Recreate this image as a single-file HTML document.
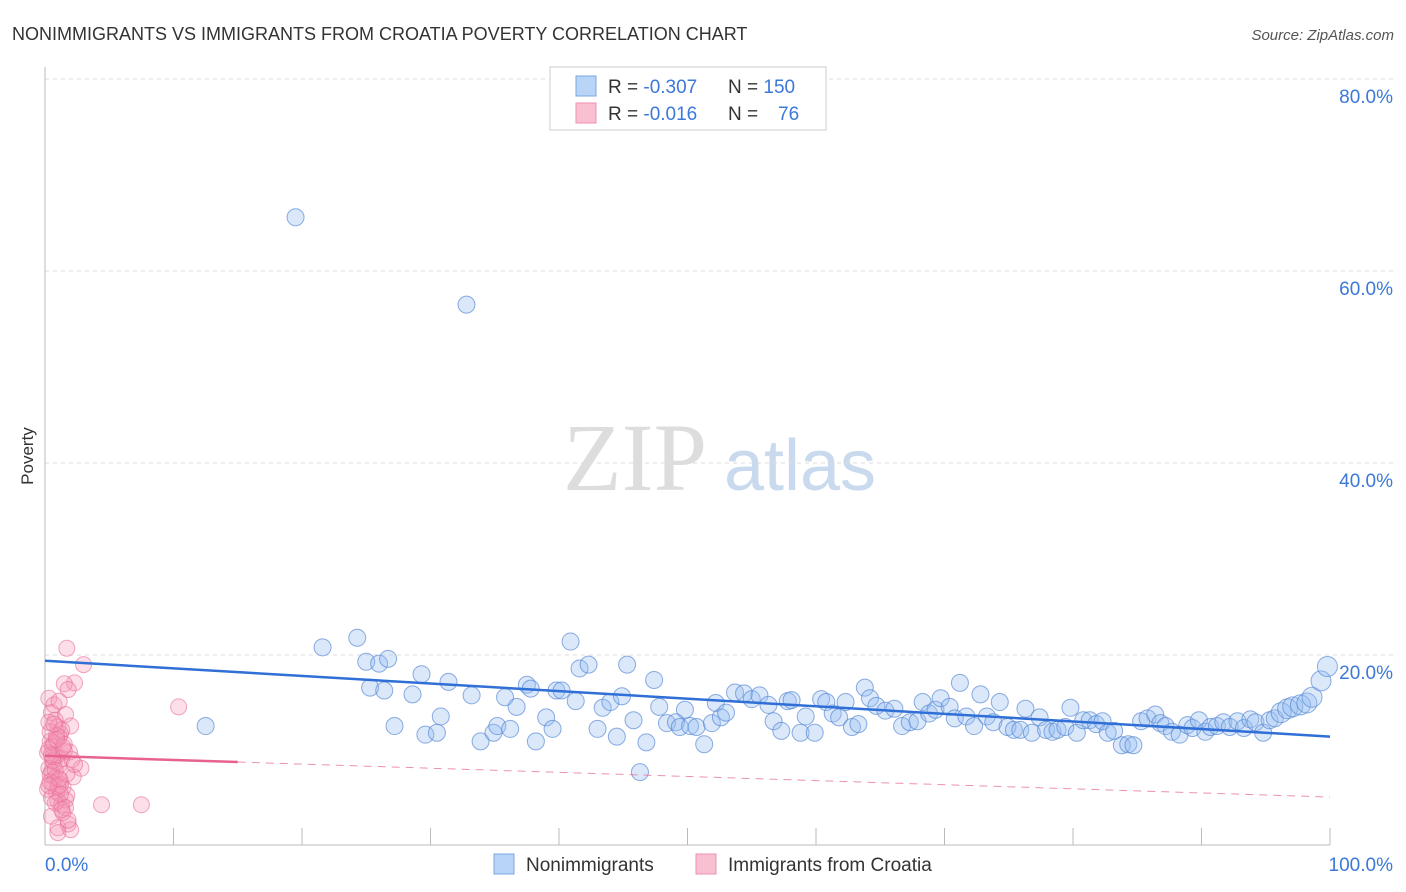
<!DOCTYPE html>
<html><head><meta charset="utf-8">
<style>
body{margin:0;background:#fff;font-family:"Liberation Sans",sans-serif;}
svg{display:block}
</style></head>
<body>
<svg id="chart" width="1406" height="892" xmlns="http://www.w3.org/2000/svg">
<text x="12" y="40" font-size="18" fill="#333">NONIMMIGRANTS VS IMMIGRANTS FROM CROATIA POVERTY CORRELATION CHART</text>
<text x="1394" y="40" font-size="15" fill="#555" font-style="italic" text-anchor="end">Source: ZipAtlas.com</text>
<text x="33" y="456" font-size="17" fill="#333" transform="rotate(-90 33 456)" text-anchor="middle">Poverty</text>
<g>
<text x="635" y="490" font-size="96" fill="#ddd" font-family="Liberation Serif,serif" text-anchor="middle">ZIP</text>
<text x="800" y="490" font-size="72" fill="#c9d9ee" text-anchor="middle">atlas</text>
</g>
<g id="grid"></g>
<g id="axes"></g>
<g id="pink"></g>
<g id="blue"></g>
<g id="trend"></g>
<g>
<rect x="550" y="67" width="276" height="63" fill="#fff" stroke="#ccc"/>
<rect x="576" y="76" width="20" height="20" fill="#b8d4f6" stroke="#7ba7e0"/>
<rect x="576" y="103" width="20" height="20" fill="#f9c0d2" stroke="#ee8fb0"/>
<text x="608" y="93" font-size="19" fill="#333">R = <tspan fill="#3b78d8">-0.307</tspan><tspan x="728">N = </tspan><tspan fill="#3b78d8">150</tspan></text>
<text x="608" y="120" font-size="19" fill="#333">R = <tspan fill="#3b78d8"> -0.016</tspan><tspan x="728">N = </tspan><tspan fill="#3b78d8" x="778">76</tspan></text>
</g>
<g>
<rect x="494" y="854" width="20" height="20" fill="#b8d4f6" stroke="#7ba7e0"/>
<text x="526" y="871" font-size="19" fill="#333">Nonimmigrants</text>
<rect x="696" y="854" width="20" height="20" fill="#f9c0d2" stroke="#ee8fb0"/>
<text x="728" y="871" font-size="19" fill="#333">Immigrants from Croatia</text>
</g>
</svg>
<script>
const yTicks=[20,40,60,80];
const xTickLabels=["0.0%","100.0%"];
const blueX=[19.5,32.8,12.5,21.6,24.3,25.0,26,26.7,25.3,26.4,27.2,28.6,29.3,29.6,30.5,30.8,31.4,33.2,33.9,34.9,35.2,35.8,36.2,36.7,37.5,37.8,38.2,39,39.5,39.8,40.2,40.9,41.3,41.6,42.3,43,43.4,44,44.5,44.9,45.3,45.8,46.3,46.8,47.4,47.8,48.4,49.1,49.4,49.8,50.2,50.7,51.3,51.9,52.2,52.6,53,53.7,54.4,55,55.6,56.3,56.7,57.3,57.8,58.1,58.8,59.2,59.9,60.4,60.8,61.3,61.8,62.3,62.8,63.3,63.8,64.2,64.7,65.4,66.1,66.7,67.3,67.9,68.3,68.8,69.3,69.7,70.4,70.8,71.2,71.7,72.3,72.8,73.3,73.8,74.3,74.9,75.4,75.9,76.3,76.8,77.4,77.9,78.4,78.8,79.4,79.8,80.3,80.8,81.3,81.8,82.3,82.7,83.2,83.8,84.3,84.7,85.3,85.8,86.4,86.8,87.2,87.7,88.3,88.9,89.3,89.8,90.3,90.7,91.2,91.7,92.2,92.8,93.3,93.8,94.2,94.8,95.3,95.7,96.2,96.7,97.1,97.7,98.2,98.6,99.3,99.8];
const blueY=[65.6,56.5,12.6,20.8,21.8,19.3,19.1,19.6,16.6,16.3,12.6,15.9,18.0,11.7,11.9,13.6,17.2,15.8,11.0,11.9,12.6,15.6,12.3,14.6,16.9,16.5,11.0,13.5,12.3,16.3,16.3,21.4,15.2,18.6,19,12.3,14.5,15.1,11.5,15.7,19,13.2,7.8,10.9,17.4,14.6,12.9,13,12.5,14.3,12.6,12.5,10.7,12.9,15,13.5,14,16.1,16,15.4,15.8,14.8,13.1,12.1,15.2,15.3,11.9,13.6,11.9,15.4,15.1,13.9,13.5,15.1,12.5,12.8,16.6,15.5,14.7,14.2,14.4,12.6,13,13.1,15.1,13.9,14.3,15.5,14.6,13.4,17.1,13.6,12.6,15.9,13.6,13,15.1,12.5,12.2,12.2,14.4,11.9,13.5,12.2,12,12.2,12.5,14.5,11.9,13.2,13.2,12.8,13.1,11.9,12.1,10.6,10.7,10.6,13.1,13.4,13.8,12.9,12.6,12,11.7,12.7,12.4,13.2,12,12.5,12.6,13,12.5,13.1,12.4,13.3,13,11.9,13.2,13.4,14,14.4,14.6,14.8,15,15.6,17.3,18.8];
const pinkX=[1.7,3,2.3,10.4,4.4,7.5,0.3,0.5,0.8,1.0,1.2,0.4,0.6,1.5,1.8,0.2,0.9,1.3,0.7,1.1,0.3,0.5,1.6,2.0,0.4,0.8,1.2,0.6,1.4,0.2,0.9,1.7,2.8,0.5,1.0,1.3,0.3,0.7,1.9,0.4,1.1,1.5,0.6,2.2,0.8,1.2,1.6,0.5,1.0,1.8,2.0,1.4,0.7,1.1,0.3,1.3,0.9,1.5,0.6,2.1,1.7,0.4,1.0,1.2,0.8,1.6,2.3,0.5,1.4,0.9,1.1,0.7,0.3,1.8,1.0,1.3];
const pinkY=[20.7,19,17.1,14.6,4.4,4.4,15.5,14,13.2,12.5,11.8,11,10.5,17,16.4,9.8,9.5,9.2,8.8,8.5,8.2,7.8,13.8,12.6,7.5,7.2,6.9,6.6,6.2,6,5.7,5.4,8.2,5.1,4.8,4.4,10.2,10.8,9.9,12,11.4,10.7,9.0,7.3,8,6.5,4.9,3.2,2.0,2.4,1.8,3.6,14.8,15.2,13,12.2,11.6,10,9.4,9.1,7.6,6.8,6.3,5.5,4.6,4.1,8.6,9.6,10.4,11.2,7.1,12.8,6.4,2.8,1.5,3.9];
const X=v=>45+v*12.85, Y=v=>847-v*9.6;
const NS="http://www.w3.org/2000/svg";
function mk(tag,attrs,parent){const e=document.createElementNS(NS,tag);for(const k in attrs)e.setAttribute(k,attrs[k]);document.getElementById(parent).appendChild(e);return e;}
yTicks.forEach(t=>{
 const l=mk('line',{x1:45,x2:1394,y1:Y(t),y2:Y(t),stroke:'#ddd','stroke-dasharray':'4,4'},'grid');
 
 
 const tx=mk('text',{x:1393,y:Y(t)+24,'font-size':19,fill:'#3b78d8','text-anchor':'end'},'grid');
 tx.textContent=t.toFixed(1)+'%';
 
 
});
const ya=mk('line',{x1:45,x2:45,y1:67,y2:845,stroke:'#bbb'},'axes');


const xa=mk('line',{x1:45,x2:1330,y1:845,y2:845,stroke:'#bbb'},'axes');


for(let i=0;i<=10;i++){
 const t=mk('line',{x1:X(i*10),x2:X(i*10),y1:828,y2:845,stroke:'#bbb'},'axes');
 
 
}
[[0,'start',45],[100,'end',1393]].forEach((d,i)=>{
 const t=mk('text',{x:d[2],y:871,'font-size':19,fill:'#3b78d8','text-anchor':d[1]},'axes');
 t.textContent=xTickLabels[i];
 
 
});
pinkX.forEach((x,i)=>{
 const c=mk('circle',{cx:X(x),cy:Y(pinkY[i]),r:8,fill:'rgba(246,150,182,0.3)',stroke:'rgba(232,110,150,0.6)','stroke-width':1},'pink');
 
 
});
blueX.forEach((x,i)=>{
 const r=x>96?10:8.5;
 const c=mk('circle',{cx:X(x),cy:Y(blueY[i]),r:r,fill:'rgba(150,190,240,0.35)',stroke:'rgba(80,130,210,0.65)','stroke-width':1},'blue');
 
 
});
const bt=mk('line',{x1:X(0),y1:Y(19.4),x2:X(100),y2:Y(11.5),stroke:'#2f6fd6','stroke-width':2.5},'trend');


const pt=mk('line',{x1:X(0),y1:Y(9.5),x2:X(15),y2:Y(8.85),stroke:'#e8628f','stroke-width':2.5},'trend');


const pd=mk('line',{x1:X(15),y1:Y(8.85),x2:X(100),y2:Y(5.2),stroke:'#e8628f','stroke-width':1,'stroke-dasharray':'8,6',opacity:0.7},'trend');


</script>
</body></html>
